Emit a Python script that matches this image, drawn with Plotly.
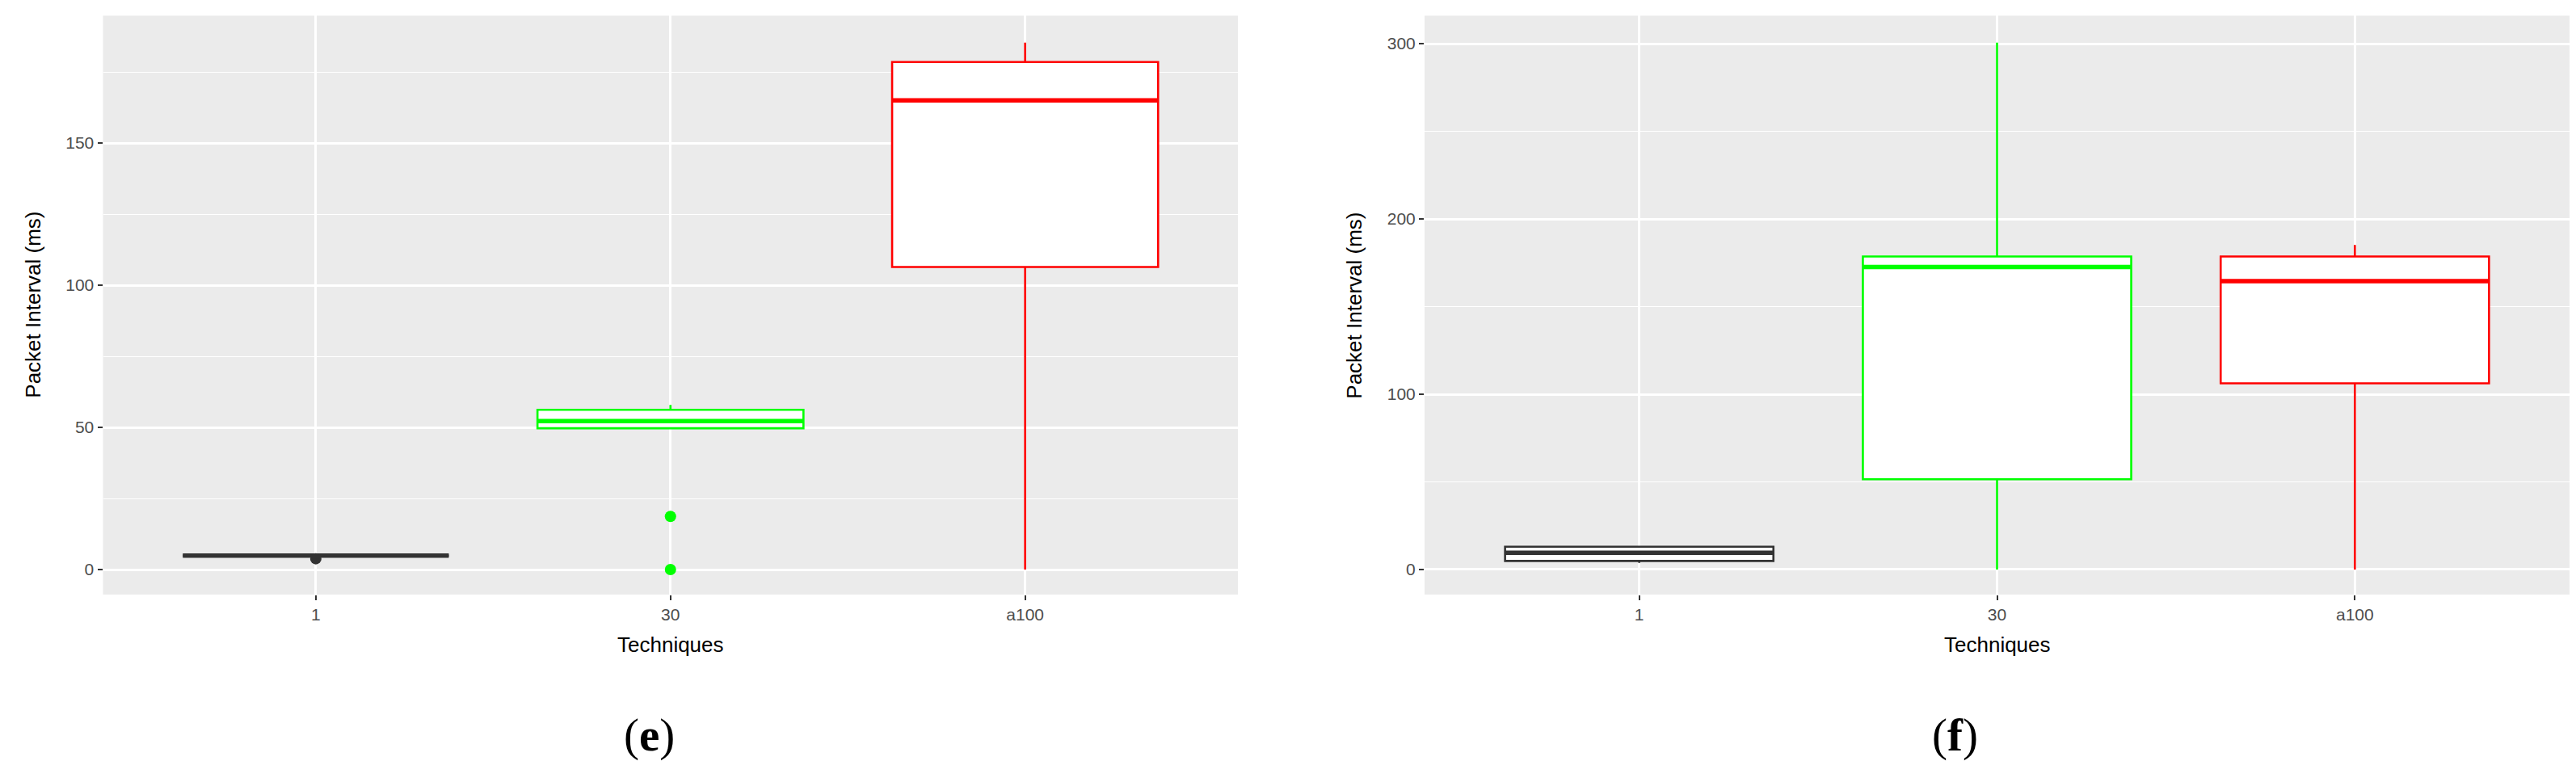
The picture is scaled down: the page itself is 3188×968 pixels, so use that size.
import plotly.graph_objects as go

categories = ["1", "30", "a100"]
box_colors = ["#333333", "#00FF00", "#FF0000"]

# Panel (e)
e_q1 = [4.9, 49.7, 106.4]
e_median = [4.9, 52.2, 165.0]
e_q3 = [4.9, 56.2, 178.5]
e_low = [4.9, 49.7, 0.0]
e_high = [4.9, 57.9, 185.3]
e_out_cat = [0, 1, 1]
e_out_val = [3.8, 18.7, 0.0]

# Panel (f)
f_q1 = [4.9, 51.5, 106.2]
f_median = [9.5, 172.6, 164.5]
f_q3 = [13.0, 178.6, 178.6]
f_low = [3.8, 0.0, 0.0]
f_high = [13.0, 300.6, 185.2]

BOX_W = 0.75
OFF = 8  # default page body margin
W, H = 3188 - 2 * OFF, 968 - 2 * OFF
FONT = "Liberation Sans"


def px(x):
    return min(1.0, max(0.0, (x - OFF) / W))


def py(y):
    return min(1.0, max(0.0, 1 - (y - OFF) / H))


fig = go.Figure()


def add_panel(q1, med, q3, lo, hi, xa, ya):
    for i, c in enumerate(categories):
        fig.add_trace(go.Box(
            x=[i], q1=[q1[i]], median=[med[i]], q3=[q3[i]],
            lowerfence=[lo[i]], upperfence=[hi[i]],
            width=BOX_W, whiskerwidth=0, boxpoints=False,
            fillcolor="white", line=dict(color=box_colors[i], width=2.6),
            xaxis=xa, yaxis=ya, showlegend=False, hoverinfo="skip"))
        fig.add_trace(go.Scatter(
            x=[i - BOX_W / 2, i + BOX_W / 2], y=[med[i], med[i]],
            mode="lines", line=dict(color=box_colors[i], width=5.5),
            xaxis=xa, yaxis=ya, showlegend=False, hoverinfo="skip"))


add_panel(e_q1, e_median, e_q3, e_low, e_high, "x", "y")
fig.add_trace(go.Scatter(
    x=e_out_cat, y=e_out_val, mode="markers",
    marker=dict(size=14, color=[box_colors[k] for k in e_out_cat]),
    xaxis="x", yaxis="y", showlegend=False, hoverinfo="skip"))
add_panel(f_q1, f_median, f_q3, f_low, f_high, "x2", "y2")

dom_y = [py(736), py(19.4)]
xcommon = dict(range=[-0.6, 2.6], tickvals=[0, 1, 2], ticktext=categories,
               showgrid=True, gridcolor="white", gridwidth=2.5, zeroline=False,
               ticks="outside", ticklen=6, tickwidth=2, tickcolor="#333333",
               tickfont=dict(family=FONT, size=21, color="#4D4D4D"),
               showline=False)
ycommon = dict(showgrid=True, gridcolor="white", gridwidth=2.5, zeroline=False,
               ticks="outside", ticklen=6, tickwidth=2, tickcolor="#333333",
               tickfont=dict(family=FONT, size=21, color="#4D4D4D"),
               showline=False, domain=dom_y)

fig.update_layout(
    width=W, height=H,
    margin=dict(l=0, r=0, t=0, b=0),
    paper_bgcolor="white", plot_bgcolor="#EBEBEB",
    xaxis=dict(domain=[px(127.5), px(1532)], anchor="y", **xcommon),
    yaxis=dict(range=[-8.8, 194.8], tickvals=[0, 50, 100, 150], anchor="x",
               minor=dict(dtick=25, tick0=0, showgrid=True, gridcolor="white", gridwidth=1.2, ticks=""),
               **ycommon),
    xaxis2=dict(domain=[px(1763), px(3181)], anchor="y2", **xcommon),
    yaxis2=dict(range=[-14.3, 316], tickvals=[0, 100, 200, 300], anchor="x2",
                minor=dict(dtick=50, tick0=0, showgrid=True, gridcolor="white", gridwidth=1.2, ticks=""),
                **ycommon),
)

ytitle_y = py((19.4 + 736) / 2)
annos = [
    dict(text="Packet Interval (ms)", x=px(41), y=ytitle_y, textangle=-90,
         font=dict(family=FONT, size=26, color="black")),
    dict(text="Packet Interval (ms)", x=px(1676), y=ytitle_y, textangle=-90,
         font=dict(family=FONT, size=26, color="black")),
    dict(text="Techniques", x=px(830), y=py(798),
         font=dict(family=FONT, size=26, color="black")),
    dict(text="Techniques", x=px(2472), y=py(798),
         font=dict(family=FONT, size=26, color="black")),
    dict(text="(<b>e</b>)", x=px(803), y=py(910),
         font=dict(family="Liberation Serif", size=57, color="black")),
    dict(text="(<b>f</b>)", x=px(2419), y=py(910),
         font=dict(family="Liberation Serif", size=57, color="black")),
]
for a in annos:
    a.update(xref="paper", yref="paper", showarrow=False, xanchor="center", yanchor="middle")
fig.update_layout(annotations=annos)

fig.write_html("out.html")
